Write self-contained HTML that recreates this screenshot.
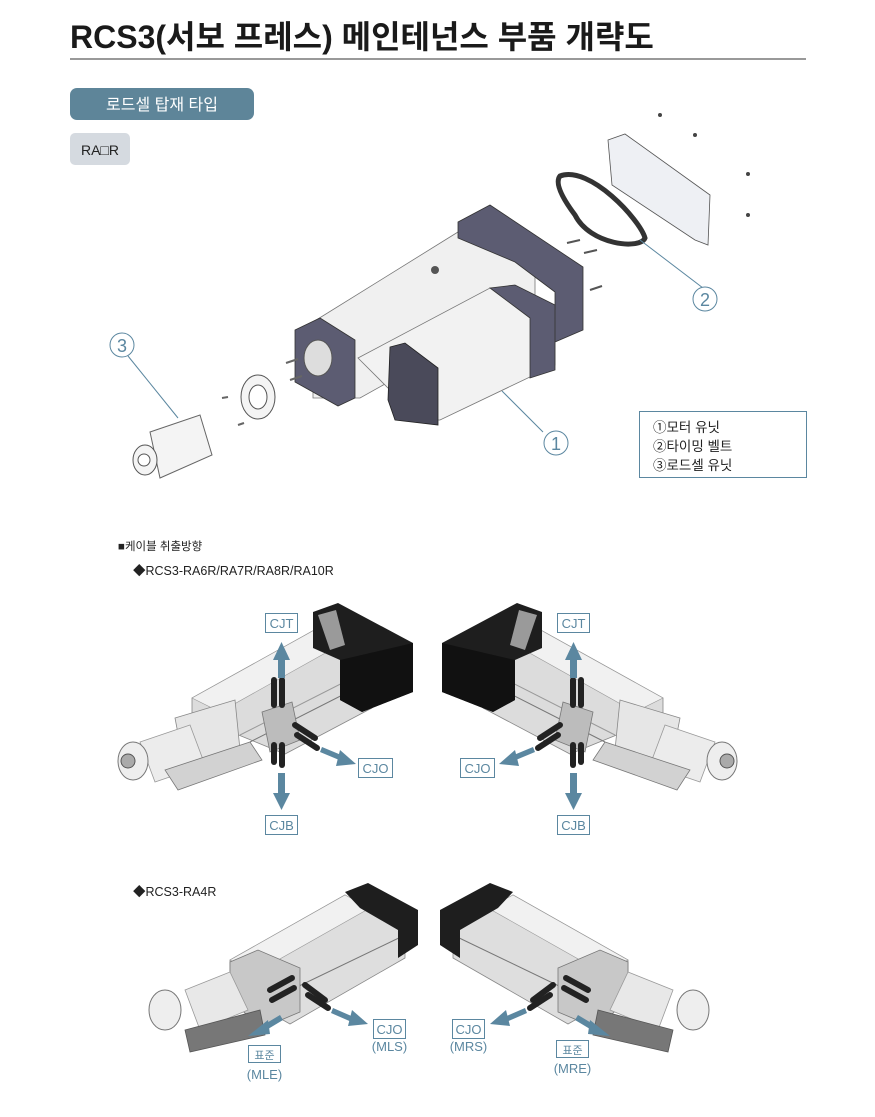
<!DOCTYPE html>
<html><head><meta charset="utf-8"><style>
body{margin:0;background:#fff;width:875px;height:1112px;overflow:hidden;font-family:"Liberation Sans","Noto Sans CJK KR",sans-serif}
</style></head><body>
<svg width="875" height="1112" viewBox="0 0 875 1112" xmlns="http://www.w3.org/2000/svg" font-family="'Liberation Sans','Noto Sans CJK KR',sans-serif">
<defs>
<marker id="ah" markerWidth="4" markerHeight="4" refX="2" refY="2" orient="auto" markerUnits="strokeWidth"><path d="M0,0 L4,2 L0,4z" fill="#5b87a0"/></marker>
<g id="act1">
  <polygon points="192,698 318,628 372,660 372,708 285,754 192,716" fill="#dcdcdc" stroke="#888" stroke-width="0.8"/>
  <polygon points="192,698 318,628 345,642 220,712" fill="#f1f1f1" stroke="#999" stroke-width="0.6"/>
  <line x1="240" y1="735" x2="372" y2="668" stroke="#999"/>
  <line x1="250" y1="742" x2="372" y2="680" stroke="#777"/>
  <polygon points="313,612 338,603 413,643 413,692 362,712 340,700 340,660 313,648" fill="#1e1e1e"/>
  <polygon points="340,660 413,643 413,692 362,712 340,700" fill="#111"/>
  <polygon points="318,615 336,610 345,645 330,650" fill="#9a9a9a"/>
  <polygon points="175,718 235,700 240,750 185,770" fill="#e6e6e6" stroke="#888" stroke-width="0.8"/>
  <polygon points="140,742 190,725 205,765 155,782" fill="#ececec" stroke="#999" stroke-width="0.8"/>
  <ellipse cx="133" cy="761" rx="15" ry="19" fill="#eee" stroke="#777"/>
  <circle cx="128" cy="761" r="7" fill="#aaa" stroke="#555"/>
  <polygon points="165,770 250,742 262,760 178,790" fill="#d2d2d2" stroke="#777" stroke-width="0.8"/>
  <polygon points="262,712 292,702 300,740 270,752" fill="#bcbcbc" stroke="#777" stroke-width="0.8"/>
  <g stroke="#222" stroke-width="6" stroke-linecap="round">
   <line x1="274" y1="680" x2="274" y2="705"/><line x1="282" y1="680" x2="282" y2="705"/>
   <line x1="274" y1="745" x2="274" y2="762"/><line x1="282" y1="745" x2="282" y2="765"/>
   <line x1="295" y1="725" x2="315" y2="738"/><line x1="297" y1="735" x2="317" y2="748"/>
  </g>
  <g fill="#5b87a0">
   <rect x="278" y="660" width="7" height="18"/><polygon points="273,660 290,660 281.5,642"/>
   <rect x="278" y="773" width="7" height="20"/><polygon points="273,793 290,793 281.5,810"/>
   <polygon points="322,747 346,757 344,762 320,752"/><polygon points="340,750 356,764 336,766"/>
  </g>
</g>
<g id="act2">
  <polygon points="230,960 345,895 405,930 405,958 290,1024 230,990" fill="#dedede" stroke="#888" stroke-width="0.8"/>
  <polygon points="230,960 345,895 370,908 255,973" fill="#f1f1f1" stroke="#999" stroke-width="0.6"/>
  <line x1="270" y1="1000" x2="405" y2="935" stroke="#777"/>
  <polygon points="345,892 368,883 418,910 418,945 398,958 398,930 360,908" fill="#1e1e1e"/>
  <polygon points="230,962 258,950 300,968 300,1012 262,1028 230,1000" fill="#c8c8c8" stroke="#777" stroke-width="0.8"/>
  <polygon points="185,990 230,972 248,1010 200,1030" fill="#e8e8e8" stroke="#999" stroke-width="0.8"/>
  <ellipse cx="165" cy="1010" rx="16" ry="20" fill="#eee" stroke="#777"/>
  <polygon points="185,1030 260,1010 265,1035 190,1052" fill="#777" stroke="#555" stroke-width="0.8"/>
  <g stroke="#222" stroke-width="6" stroke-linecap="round">
   <line x1="270" y1="990" x2="292" y2="978"/><line x1="272" y1="1000" x2="294" y2="988"/>
   <line x1="305" y1="985" x2="325" y2="1000"/><line x1="308" y1="995" x2="328" y2="1008"/>
  </g>
  <g fill="#5b87a0">
   <polygon points="280,1015 260,1027 263,1032 283,1020"/><polygon points="248,1036 268,1020 270,1034"/>
   <polygon points="333,1008 356,1018 354,1023 331,1013"/><polygon points="352,1010 368,1024 348,1026"/>
  </g>
</g>
</defs>

<text x="70" y="48" font-size="32" font-weight="bold" fill="#1a1a1a">RCS3(서보 프레스) 메인테넌스 부품 개략도</text>
<line x1="70" y1="59" x2="806" y2="59" stroke="#333" stroke-width="1"/>
<rect x="70" y="88" width="184" height="32" rx="7" fill="#5e8599"/>
<text x="162" y="110" font-size="16" fill="#fff" text-anchor="middle">로드셀 탑재 타입</text>
<rect x="70" y="133" width="60" height="32" rx="5" fill="#d5dae0"/>
<text x="100" y="155" font-size="14" fill="#222" text-anchor="middle">RA□R</text>

<!-- exploded view -->
<polygon points="313,322 458,232 535,262 535,300 360,398 313,398" fill="#f0f0f0" stroke="#777" stroke-width="0.8"/>
<polygon points="458,222 490,205 583,267 583,330 555,342 555,292 515,262 458,238" fill="#5c5c72" stroke="#333" stroke-width="0.8"/>
<polygon points="295,330 320,318 355,340 355,398 338,406 295,382" fill="#5c5c72" stroke="#333" stroke-width="0.8"/>
<ellipse cx="318" cy="358" rx="14" ry="18" fill="#ddd" stroke="#555"/>
<polygon points="358,358 490,288 555,310 555,365 440,420 420,420" fill="#f2f2f2" stroke="#777" stroke-width="0.8"/>
<polygon points="490,288 515,285 555,305 555,370 530,378 530,318" fill="#5c5c72" stroke="#333" stroke-width="0.8"/>
<polygon points="390,347 405,343 438,368 438,425 395,420 388,400" fill="#4a4a5a" stroke="#222" stroke-width="0.8"/>
<circle cx="435" cy="270" r="4" fill="#555"/>
<ellipse cx="258" cy="397" rx="17" ry="22" fill="#f4f4f4" stroke="#555"/>
<ellipse cx="258" cy="397" rx="9" ry="12" fill="#fff" stroke="#555"/>
<path d="M150,432 L200,415 L212,455 L160,478 Z" fill="#f4f4f4" stroke="#666"/>
<ellipse cx="145" cy="460" rx="12" ry="15" fill="#f4f4f4" stroke="#555"/>
<circle cx="144" cy="460" r="6" fill="#fff" stroke="#555"/>
<g stroke="#666" stroke-width="2"><line x1="222" y1="398" x2="228" y2="397"/><line x1="238" y1="425" x2="244" y2="423"/><line x1="286" y1="363" x2="298" y2="359"/><line x1="290" y1="380" x2="302" y2="376"/></g>
<path d="M560,176 C590,165 640,220 645,238 C640,250 590,245 575,215 C560,195 555,182 560,176 Z" fill="none" stroke="#333" stroke-width="5"/>
<polygon points="608,140 625,134 710,195 708,245 695,240 612,185" fill="#eef0f4" stroke="#555" stroke-width="0.8"/>
<g stroke="#555" stroke-width="2"><line x1="567" y1="243" x2="580" y2="240"/><line x1="584" y1="253" x2="597" y2="250"/><line x1="590" y1="290" x2="602" y2="286"/></g>
<g fill="#444"><circle cx="660" cy="115" r="2"/><circle cx="695" cy="135" r="2"/><circle cx="748" cy="174" r="2"/><circle cx="748" cy="215" r="2"/></g>
<g stroke="#5b87a0" stroke-width="1" fill="none">
 <line x1="128" y1="356" x2="178" y2="418"/><line x1="703" y1="288" x2="640" y2="240"/><line x1="543" y1="432" x2="502" y2="391"/>
 <circle cx="122" cy="345" r="12" fill="#fff"/><circle cx="705" cy="299" r="12" fill="#fff"/><circle cx="556" cy="443" r="12" fill="#fff"/>
</g>
<g font-size="18" fill="#5b87a0" text-anchor="middle"><text x="122" y="352">3</text><text x="705" y="306">2</text><text x="556" y="450">1</text></g>
<rect x="639.5" y="411.5" width="167" height="66" fill="#fff" stroke="#5b87a0"/>
<g font-size="13.5" fill="#222"><text x="653" y="432">①모터 유닛</text><text x="653" y="451">②타이밍 벨트</text><text x="653" y="470">③로드셀 유닛</text></g>

<text x="118" y="550" font-size="11.5" fill="#222">■케이블 취출방향</text>
<text x="133" y="575" font-size="12.5" fill="#222">◆RCS3-RA6R/RA7R/RA8R/RA10R</text>
<text x="133" y="896" font-size="12.5" fill="#222">◆RCS3-RA4R</text>

<use href="#act1"/>
<use href="#act1" transform="translate(855,0) scale(-1,1)"/>
<use href="#act2"/>
<use href="#act2" transform="translate(858,0) scale(-1,1)"/>

<g fill="#fff" stroke="#5b87a0" stroke-width="1">
 <rect x="265.5" y="613.5" width="32" height="19"/><rect x="358.5" y="758.5" width="34" height="19"/><rect x="265.5" y="815.5" width="32" height="19"/>
 <rect x="557.5" y="613.5" width="32" height="19"/><rect x="460.5" y="758.5" width="34" height="19"/><rect x="557.5" y="815.5" width="32" height="19"/>
 <rect x="373.5" y="1019.5" width="32" height="19"/><rect x="452.5" y="1019.5" width="32" height="19"/>
 <rect x="248.5" y="1045.5" width="32" height="17"/><rect x="556.5" y="1040.5" width="32" height="17"/>
</g>
<g font-size="13" fill="#5b87a0" text-anchor="middle">
 <text x="281.5" y="628">CJT</text><text x="375.5" y="773">CJO</text><text x="281.5" y="830">CJB</text>
 <text x="573.5" y="628">CJT</text><text x="477.5" y="773">CJO</text><text x="573.5" y="830">CJB</text>
 <text x="389.5" y="1034">CJO</text><text x="468.5" y="1034">CJO</text>
 <text x="389.5" y="1051">(MLS)</text><text x="468.5" y="1051">(MRS)</text>
 <text x="264.5" y="1059" font-size="11">표준</text><text x="572.5" y="1054" font-size="11">표준</text>
 <text x="264.5" y="1079">(MLE)</text><text x="572.5" y="1073">(MRE)</text>
</g>
</svg>
</body></html>
